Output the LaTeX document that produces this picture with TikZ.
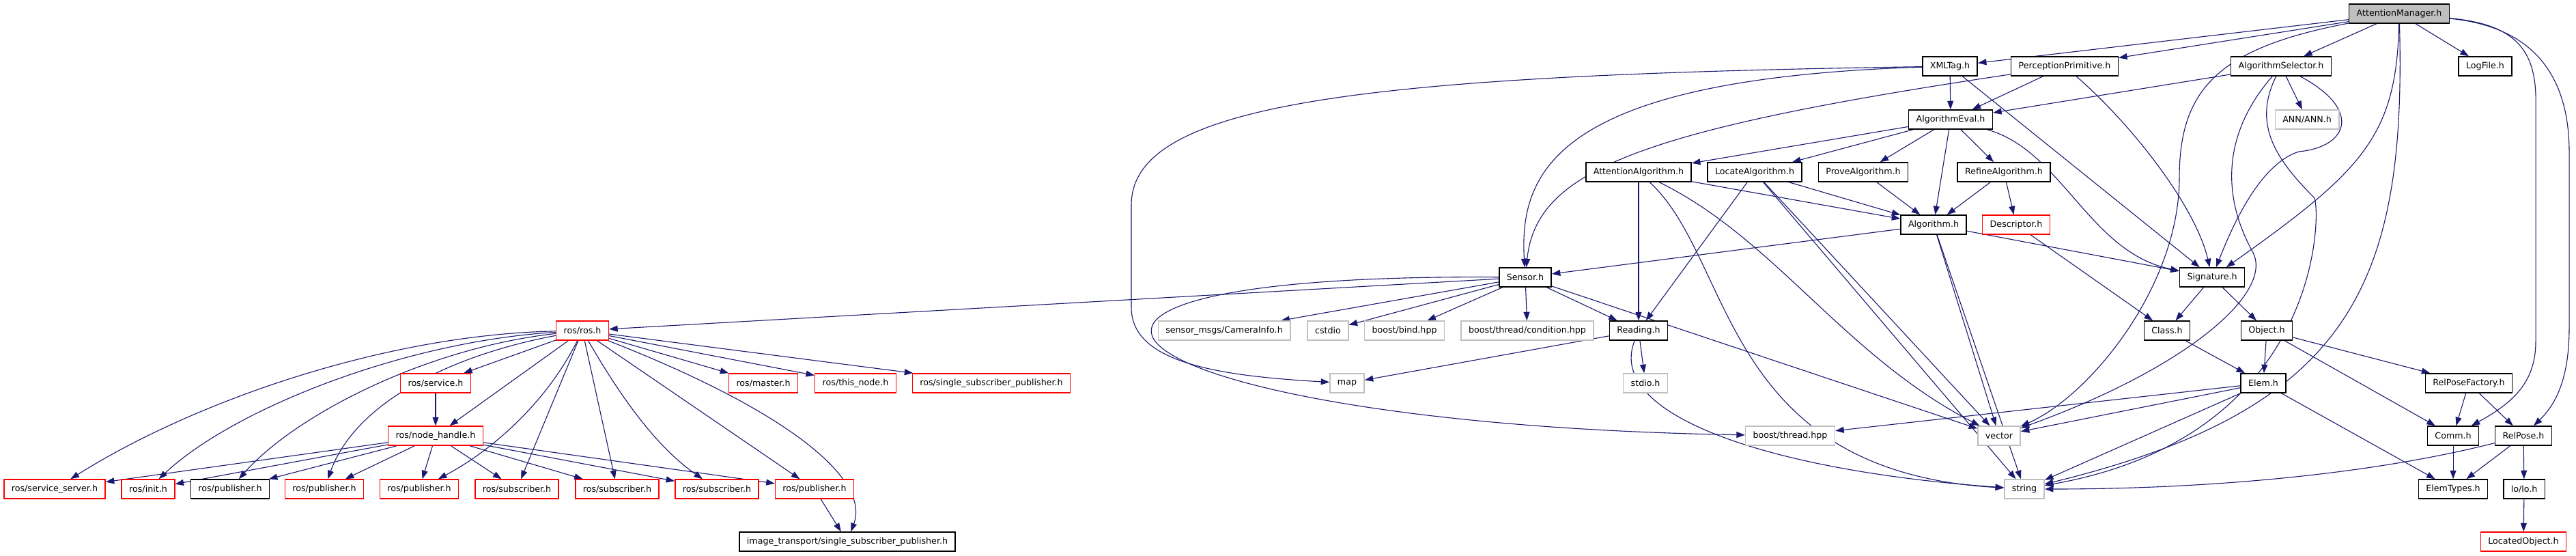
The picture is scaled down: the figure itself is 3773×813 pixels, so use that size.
\documentclass[tikz,border=0pt]{standalone}
\usepackage{fontspec}
\setsansfont{DejaVu Sans}
\usepackage{xcolor}
\definecolor{edgeblue}{HTML}{191970}
\definecolor{nodoc}{HTML}{FF0000}
\definecolor{syshdr}{HTML}{BFBFBF}
\definecolor{rootfill}{HTML}{BFBFBF}
\usepackage{tikz}
\usetikzlibrary{arrows.meta, backgrounds}

\begin{document}
\begin{tikzpicture}[
  x=0.1mm, y=-0.1mm,
  hdr/.style={draw=#1, fill=white, line width=0.15mm, minimum height=2.8mm,
    inner xsep=1.1mm, inner ysep=0pt, font=\sffamily\fontsize{3.6}{4.5}\selectfont},
  dep/.style={draw=edgeblue, line width=0.11mm, -{Triangle[length=1.25mm,width=0.9mm]}}
]
  \useasboundingbox (0,0) rectangle (3773,813);

  % Root header
  \node[hdr=black, fill=rootfill] (manager) at (3514,20) {AttentionManager.h};

  % First level
  \node[hdr=black] (xmltag) at (2856,97) {XMLTag.h};
  \node[hdr=black] (percept) at (3024,97) {PerceptionPrimitive.h};
  \node[hdr=black] (selector) at (3341,97) {AlgorithmSelector.h};
  \node[hdr=black] (logfile) at (3640,97) {LogFile.h};

  % Algorithms
  \node[hdr=black] (eval) at (2857,175) {AlgorithmEval.h};
  \node[hdr=syshdr] (ann) at (3379,175) {ANN/ANN.h};
  \node[hdr=black] (attalg) at (2400,252) {AttentionAlgorithm.h};
  \node[hdr=black] (localg) at (2570,252) {LocateAlgorithm.h};
  \node[hdr=black] (provealg) at (2729,252) {ProveAlgorithm.h};
  \node[hdr=black] (refinealg) at (2935,252) {RefineAlgorithm.h};
  \node[hdr=black] (algo) at (2832,329) {Algorithm.h};
  \node[hdr=nodoc] (descr) at (2953,329) {Descriptor.h};

  % Sensor and signature
  \node[hdr=black] (sensor) at (2234,406) {Sensor.h};
  \node[hdr=black] (signat) at (3240,406) {Signature.h};
  \node[hdr=nodoc] (ros) at (853,484) {ros/ros.h};
  \node[hdr=syshdr] (caminfo) at (1793,484) {sensor\_msgs/CameraInfo.h};
  \node[hdr=syshdr] (cstdio) at (1945,484) {cstdio};
  \node[hdr=syshdr] (bind) at (2057,484) {boost/bind.hpp};
  \node[hdr=syshdr] (cond) at (2237,484) {boost/thread/condition.hpp};
  \node[hdr=black] (reading) at (2400,484) {Reading.h};
  \node[hdr=black] (class) at (3174,484) {Class.h};
  \node[hdr=black] (object) at (3320,484) {Object.h};

  % ROS headers
  \node[hdr=nodoc] (service) at (638,561) {ros/service.h};
  \node[hdr=nodoc] (master) at (1118,561) {ros/master.h};
  \node[hdr=nodoc] (thisnode) at (1253,561) {ros/this\_node.h};
  \node[hdr=nodoc] (sspub) at (1452,561) {ros/single\_subscriber\_publisher.h};
  \node[hdr=syshdr] (map) at (1973,561) {map};
  \node[hdr=syshdr] (stdio) at (2410,561) {stdio.h};
  \node[hdr=black] (elem) at (3315,561) {Elem.h};
  \node[hdr=black] (rpfact) at (3616,561) {RelPoseFactory.h};

  \node[hdr=nodoc] (nodeh) at (638,638) {ros/node\_handle.h};
  \node[hdr=syshdr] (bthread) at (2622,638) {boost/thread.hpp};
  \node[hdr=syshdr] (vector) at (2928,638) {vector};
  \node[hdr=black] (comm) at (3593,638) {Comm.h};
  \node[hdr=black] (relpose) at (3696,638) {RelPose.h};

  % Bottom row
  \node[hdr=nodoc] (srvserver) at (80,716) {ros/service\_server.h};
  \node[hdr=nodoc] (init) at (217,716) {ros/init.h};
  \node[hdr=black] (pubA) at (337,716) {ros/publisher.h};
  \node[hdr=nodoc] (pubB) at (475,716) {ros/publisher.h};
  \node[hdr=nodoc] (pubC) at (614,716) {ros/publisher.h};
  \node[hdr=nodoc] (subA) at (757,716) {ros/subscriber.h};
  \node[hdr=nodoc] (subB) at (904,716) {ros/subscriber.h};
  \node[hdr=nodoc] (subC) at (1050,716) {ros/subscriber.h};
  \node[hdr=nodoc] (pubD) at (1193,716) {ros/publisher.h};
  \node[hdr=syshdr] (string) at (2965,716) {string};
  \node[hdr=black] (elemtypes) at (3593,716) {ElemTypes.h};
  \node[hdr=black] (lolo) at (3697,716) {lo/lo.h};
  \node[hdr=black] (imgtr) at (1241,793) {image\_transport/single\_subscriber\_publisher.h};
  \node[hdr=nodoc] (locobj) at (3696,793) {LocatedObject.h};

  \begin{scope}[on background layer]
  \fill[white] (0,0) rectangle (3773,813);

  % Includes of AttentionManager.h
  \draw[dep] (manager) -- (xmltag);
  \draw[dep] (manager) -- (percept);
  \draw[dep] (manager) -- (selector);
  \draw[dep] (manager) -- (logfile);
  \draw[dep] (manager) .. controls (3250,70) and (3192,130) .. (3192,260)
    .. controls (3192,420) and (3060,580) .. (vector);
  \draw[dep] (manager) .. controls (3510,200) and (3460,250) .. (signat);
  \draw[dep] (manager) .. controls (3525,420) and (3440,600) .. (string);
  \draw[dep] (manager) .. controls (3680,35) and (3712,70) .. (3714,140)
    -- (3714,500) .. controls (3714,560) and (3680,590) .. (comm);
  \draw[dep] (manager) .. controls (3700,38) and (3762,100) .. (3763,220)
    -- (3763,480) .. controls (3763,560) and (3740,595) .. (relpose);

  % AlgorithmSelector.h
  \draw[dep] (selector) -- (eval);
  \draw[dep] (selector) -- (ann);
  \draw[dep] (selector) .. controls (3460,160) and (3440,215) .. (3367,222)
    .. controls (3310,240) and (3270,330) .. (signat);
  \draw[dep] (selector) .. controls (3260,190) and (3250,280) .. (3300,370)
    .. controls (3330,430) and (3200,540) .. (vector);
  \draw[dep] (selector) .. controls (3300,180) and (3330,230) .. (3390,290)
    .. controls (3400,320) and (3395,640) .. (string);

  % XMLTag.h
  \draw[dep] (xmltag) .. controls (2000,110) and (1657,150) .. (1657,300)
    -- (1657,450) .. controls (1657,530) and (1780,550) .. (map);
  \draw[dep] (xmltag) .. controls (2280,115) and (2225,250) .. (sensor);
  \draw[dep] (xmltag) -- (eval);
  \draw[dep] (xmltag) -- (signat);

  % PerceptionPrimitive.h
  \draw[dep] (percept) .. controls (2400,190) and (2250,250) .. (sensor);
  \draw[dep] (percept) -- (eval);
  \draw[dep] (percept) .. controls (3120,180) and (3215,300) .. (signat);

  % AlgorithmEval.h
  \draw[dep] (eval) -- (attalg);
  \draw[dep] (eval) -- (localg);
  \draw[dep] (eval) -- (provealg);
  \draw[dep] (eval) -- (refinealg);
  \draw[dep] (eval) -- (algo);
  \draw[dep] (eval) .. controls (3020,220) and (3060,370) .. (signat);

  % Algorithm family
  \draw[dep] (attalg) -- (reading);
  \draw[dep] (attalg) -- (algo);
  \draw[dep] (attalg) .. controls (2540,380) and (2520,690) .. (string);
  \draw[dep] (attalg) .. controls (2600,350) and (2700,520) .. (vector);
  \draw[dep] (localg) -- (reading);
  \draw[dep] (localg) -- (algo);
  \draw[dep] (localg) -- (vector);
  \draw[dep] (localg) -- (string);
  \draw[dep] (provealg) -- (algo);
  \draw[dep] (refinealg) -- (algo);
  \draw[dep] (refinealg) -- (descr);
  \draw[dep] (algo) -- (sensor);
  \draw[dep] (algo) -- (signat);
  \draw[dep] (algo) -- (vector);
  \draw[dep] (algo) -- (string);
  \draw[dep] (descr) -- (class);

  % Sensor.h
  \draw[dep] (sensor) -- (ros);
  \draw[dep] (sensor) -- (caminfo);
  \draw[dep] (sensor) -- (cstdio);
  \draw[dep] (sensor) -- (bind);
  \draw[dep] (sensor) -- (cond);
  \draw[dep] (sensor) -- (reading);
  \draw[dep] (sensor) -- (vector);
  \draw[dep] (sensor) .. controls (1350,400) and (1620,620) .. (bthread);

  % Signature.h and below
  \draw[dep] (signat) -- (class);
  \draw[dep] (signat) -- (object);
  \draw[dep] (reading) -- (map);
  \draw[dep] (reading) -- (stdio);
  \draw[dep] (reading) .. controls (2350,610) and (2600,690) .. (string);
  \draw[dep] (class) -- (elem);
  \draw[dep] (object) -- (elem);
  \draw[dep] (object) -- (comm);
  \draw[dep] (object) -- (rpfact);
  \draw[dep] (elem) -- (bthread);
  \draw[dep] (elem) -- (vector);
  \draw[dep] (elem) -- (string);
  \draw[dep] (elem) -- (elemtypes);
  \draw[dep] (rpfact) -- (comm);
  \draw[dep] (rpfact) -- (relpose);
  \draw[dep] (comm) -- (elemtypes);
  \draw[dep] (relpose) .. controls (3450,700) and (3200,716) .. (string);
  \draw[dep] (relpose) -- (elemtypes);
  \draw[dep] (relpose) -- (lolo);
  \draw[dep] (lolo) -- (locobj);

  % ros/ros.h
  \draw[dep] (ros) .. controls (560,490) and (280,590) .. (srvserver);
  \draw[dep] (ros) .. controls (590,500) and (340,600) .. (init);
  \draw[dep] (ros) .. controls (620,510) and (430,610) .. (pubA);
  \draw[dep] (ros) .. controls (660,520) and (520,590) .. (pubB);
  \draw[dep] (ros) -- (service);
  \draw[dep] (ros) -- (nodeh);
  \draw[dep] (ros) .. controls (800,590) and (720,660) .. (pubC);
  \draw[dep] (ros) -- (subA);
  \draw[dep] (ros) -- (subB);
  \draw[dep] (ros) .. controls (920,600) and (970,660) .. (subC);
  \draw[dep] (ros) -- (pubD);
  \draw[dep] (ros) .. controls (1150,600) and (1275,700) .. (imgtr);
  \draw[dep] (ros) -- (master);
  \draw[dep] (ros) -- (thisnode);
  \draw[dep] (ros) -- (sspub);

  % ros/node_handle.h
  \draw[dep] (service) -- (nodeh);
  \draw[dep] (nodeh) -- (srvserver);
  \draw[dep] (nodeh) -- (init);
  \draw[dep] (nodeh) -- (pubA);
  \draw[dep] (nodeh) -- (pubB);
  \draw[dep] (nodeh) -- (pubC);
  \draw[dep] (nodeh) -- (subA);
  \draw[dep] (nodeh) -- (subB);
  \draw[dep] (nodeh) -- (subC);
  \draw[dep] (nodeh) -- (pubD);
  \draw[dep] (pubD) -- (imgtr);
  \end{scope}

\end{tikzpicture}
\end{document}
